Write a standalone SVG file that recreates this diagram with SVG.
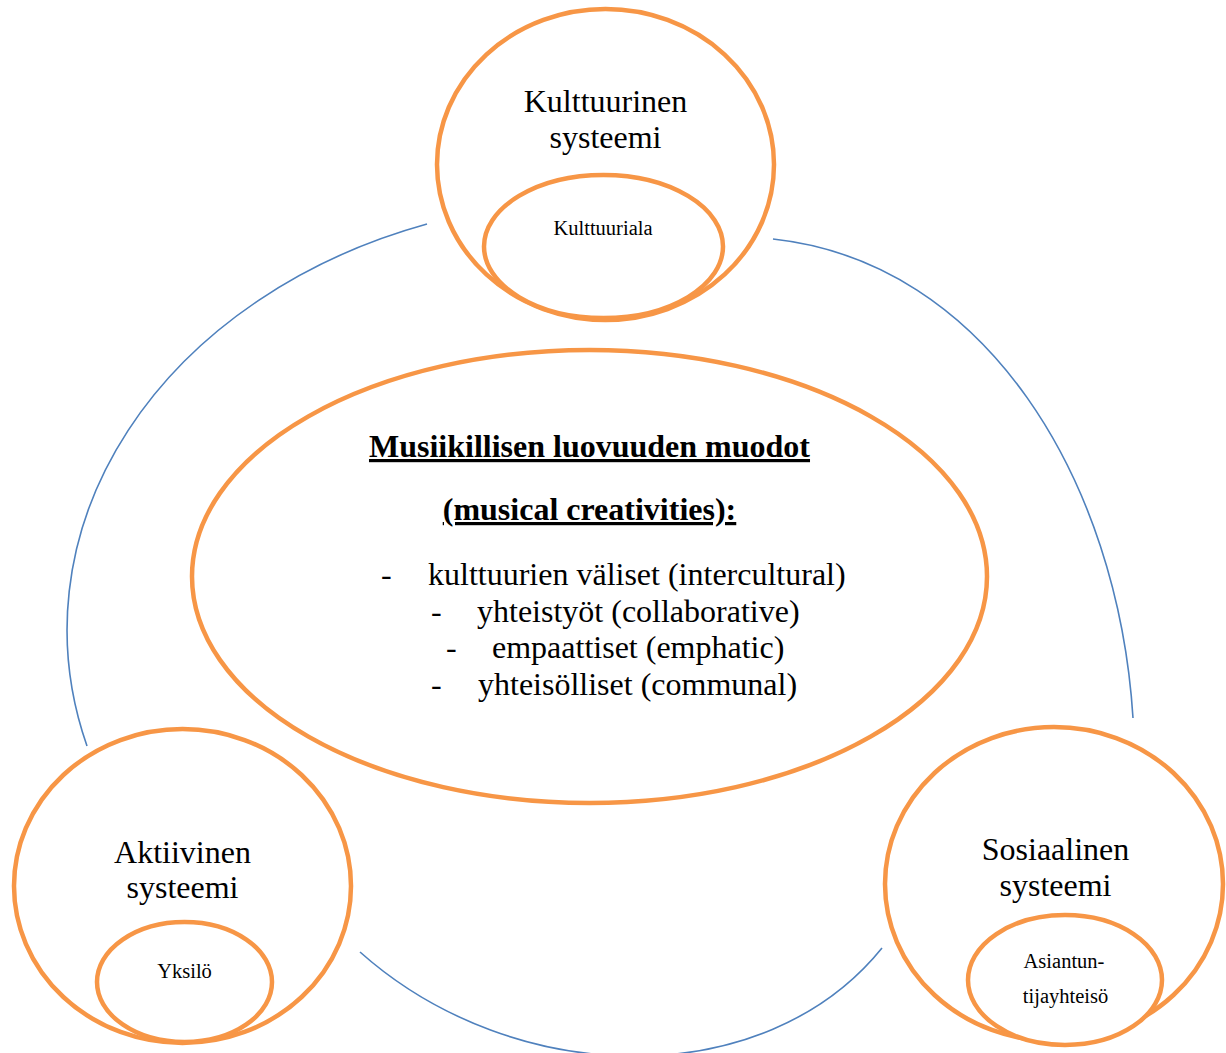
<svg xmlns="http://www.w3.org/2000/svg" width="1226" height="1053" viewBox="0 0 1226 1053">
<style>
  .ring { fill: #ffffff; stroke: #F79646; stroke-width: 4.5; }
  .arc { fill: none; stroke: #4F81BD; stroke-width: 1.6; }
  text { font-family: "Liberation Serif", "Times New Roman", serif; fill: #000000; }
  .big { font-size: 32px; text-anchor: middle; }
  .small { font-size: 20.5px; text-anchor: middle; }
  .head { font-size: 32px; font-weight: bold; text-anchor: middle; text-decoration: underline; }
  .item { font-size: 32px; }
</style>
<rect width="1226" height="1053" fill="#ffffff"/>
<g id="connectors">
  <path class="arc" d="M427,224 A533,429 0 0 0 87,746"/>
  <path class="arc" d="M773,239 C986,262 1118,480 1133,718"/>
  <path class="arc" d="M360,952 C515,1090 765,1093 882,948"/>
</g>
<g id="node-center">
  <ellipse class="ring" cx="589.5" cy="576.5" rx="397.5" ry="226.5"/>
  <text class="head" x="589.5" y="457">Musiikillisen luovuuden muodot</text>
  <text class="head" x="589.5" y="520">(musical creativities):</text>
  <text class="item" x="381" y="585">-</text>
  <text class="item" x="428" y="585">kulttuurien väliset (intercultural)</text>
  <text class="item" x="431" y="622">-</text>
  <text class="item" x="477" y="622">yhteistyöt (collaborative)</text>
  <text class="item" x="446" y="658">-</text>
  <text class="item" x="492" y="658">empaattiset (emphatic)</text>
  <text class="item" x="431" y="695">-</text>
  <text class="item" x="478" y="695">yhteisölliset (communal)</text>
</g>
<g id="node-kulttuurinen">
  <ellipse class="ring" cx="605.5" cy="164.5" rx="168.5" ry="155.5"/>
  <ellipse class="ring" cx="603.5" cy="246.5" rx="119.5" ry="71.5"/>
  <text class="big" x="605.5" y="112">Kulttuurinen</text>
  <text class="big" x="605.5" y="148">systeemi</text>
  <text class="small" x="603" y="235">Kulttuuriala</text>
</g>
<g id="node-aktiivinen">
  <ellipse class="ring" cx="182.5" cy="886" rx="168.5" ry="157"/>
  <ellipse class="ring" cx="184.5" cy="982" rx="87.5" ry="60"/>
  <text class="big" x="182.5" y="863">Aktiivinen</text>
  <text class="big" x="182.5" y="898">systeemi</text>
  <text class="small" x="184.5" y="978">Yksilö</text>
</g>
<g id="node-sosiaalinen">
  <ellipse class="ring" cx="1054" cy="884" rx="169" ry="157"/>
  <ellipse class="ring" cx="1065" cy="980" rx="97" ry="65"/>
  <text class="big" x="1055.5" y="860">Sosiaalinen</text>
  <text class="big" x="1055.5" y="896">systeemi</text>
  <text class="small" x="1064" y="968">Asiantun-</text>
  <text class="small" x="1065.5" y="1003">tijayhteisö</text>
</g>
</svg>
